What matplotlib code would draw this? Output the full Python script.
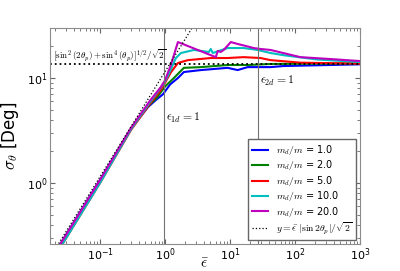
import numpy as np
import matplotlib
matplotlib.use('Agg')
import matplotlib.pyplot as plt

plt.rcParams['mathtext.fontset'] = 'cm'
plt.rcParams['font.family'] = 'DejaVu Sans'

# sigma_theta vs eps-bar, one curve per mass ratio
eps_1 = [0.015, 0.1, 0.3, 0.55, 0.73, 0.93, 1.2, 1.58, 1.95, 3.56, 9.2, 13.1, 18.7, 42, 66, 1000]
sig_1 = [0.16, 1.07, 3.3, 5.3, 6.2, 7.0, 8.7, 10.0, 11.4, 11.9, 12.5, 11.9, 12.7, 12.7, 13.0, 13.5]

eps_2 = [0.015, 0.1, 0.3, 0.55, 0.75, 1.0, 1.37, 1.95, 3.56, 9.2, 18.7, 42, 1000]
sig_2 = [0.155, 1.04, 3.3, 5.4, 6.5, 8.3, 10.0, 12.5, 12.7, 13.3, 13.3, 13.6, 13.8]

eps_5 = [0.015, 0.1, 0.3, 0.6, 0.85, 1.0, 1.24, 1.58, 2.25, 5.06, 9.2, 16.2, 29.5, 42, 121, 1000]
sig_5 = [0.148, 1.0, 3.2, 5.8, 7.6, 9.0, 11.4, 13.9, 14.8, 15.5, 15.5, 15.8, 15.5, 14.8, 14.0, 13.7]

eps_10 = [0.015, 0.1, 0.3, 0.6, 0.85, 1.0, 1.11, 1.47, 1.76, 2.78, 4.72, 5.06, 5.43, 6.04, 9.2, 16.2, 26.6, 42, 66, 220, 1000]
sig_10 = [0.148, 1.0, 3.25, 6.0, 8.0, 9.3, 10.5, 15.5, 17.3, 18.5, 17.7, 18.9, 17.3, 17.7, 19.3, 19.3, 18.5, 17.3, 16.5, 15.0, 14.2]

eps_20 = [0.015, 0.1, 0.3, 0.6, 0.85, 1.0, 1.24, 1.58, 6.04, 6.48, 7.2, 8.0, 10.3, 13.1, 17.4, 23.1, 29.5, 42, 121, 387, 1000]
sig_20 = [0.16, 1.07, 3.35, 6.2, 8.1, 9.5, 13.5, 22.0, 15.8, 18.1, 17.7, 18.5, 22.0, 21.1, 20.2, 19.3, 18.9, 18.5, 15.8, 15.1, 14.5]

mass_ratios = [1.0, 2.0, 5.0, 10.0, 20.0]
colors = ['b', 'g', 'r', 'c', 'm']

# reference lines
ref_eps = [0.015, 3.0]
ref_sig = [0.172, 34.5]
sat_level = 13.6
eps_1d = 0.95
eps_2d = 27.0

fig = plt.figure(figsize=(4, 2.71), dpi=100)
ax = fig.add_axes([0.125, 0.1, 0.775, 0.797])

curves = [(eps_1, sig_1), (eps_2, sig_2), (eps_5, sig_5), (eps_10, sig_10), (eps_20, sig_20)]
for (e, s), mr, col in zip(curves, mass_ratios, colors):
    ax.plot(e, s, color=col, lw=1.5, label='$m_d/m$ = %.1f' % mr)

ax.plot(ref_eps, ref_sig, ':', color='k', lw=0.9,
        label=r'$y = \bar{\epsilon}\ |\sin 2\theta_p|/\sqrt{2}$')
ax.axhline(sat_level, color='k', ls=':', lw=1.3)
ax.axvline(eps_1d, color='0.45', lw=0.8)
ax.axvline(eps_2d, color='0.45', lw=0.8)

ax.text(0.019, 14.0, r'$\left[\sin^2(2\theta_p) + \sin^4(\theta_p)\right]^{1/2}/\sqrt{2}$',
        fontsize=6.5, va='bottom', ha='left')
ax.text(1.03, 4.2, r'$\epsilon_{1d} = 1$', fontsize=8.5, va='center')
ax.text(28.5, 9.4, r'$\epsilon_{2d} = 1$', fontsize=8.5, va='center')

ax.set_xscale('log')
ax.set_yscale('log')
ax.set_xlim(0.017, 1000)
ax.set_ylim(0.263, 30)
ax.set_xlabel(r'$\bar{\epsilon}$', fontsize=11)
ax.xaxis.set_label_coords(0.5, -0.055)
ax.set_ylabel(r'$\sigma_\theta$ [Deg]', fontsize=12, labelpad=4)
ax.tick_params(which='both', direction='in', top=True, right=True, labelsize=8, pad=2, color='0.4')
for sp in ax.spines.values():
    sp.set_color('0.55')

leg = ax.legend(loc='lower right', fontsize=7, fancybox=False, framealpha=1,
                labelspacing=0.15, handlelength=1.7, borderaxespad=0.4)
leg.get_frame().set_edgecolor('0.4')

plt.savefig('out.png', dpi=100)
